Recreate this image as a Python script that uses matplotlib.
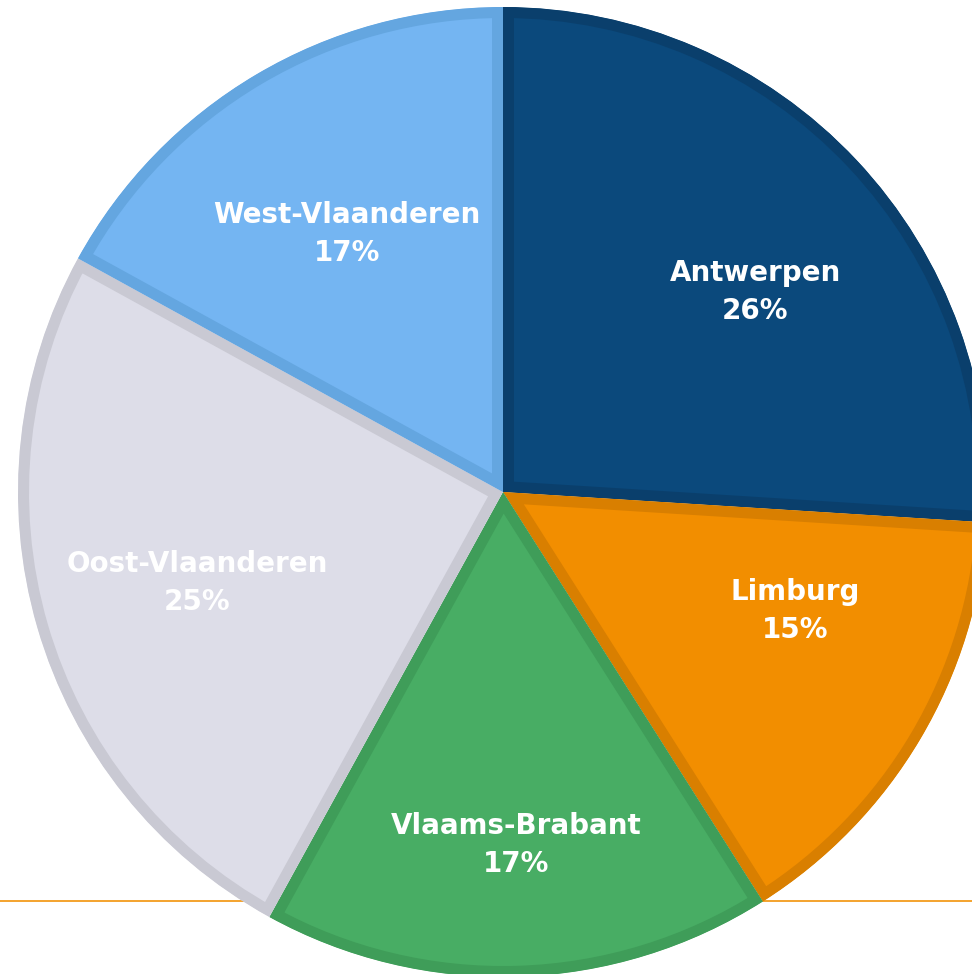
import matplotlib
matplotlib.use("Agg")
import matplotlib.pyplot as plt

# ---- data ----
regions = ["Antwerpen", "Limburg", "Vlaams-Brabant", "Oost-Vlaanderen", "West-Vlaanderen"]
shares = [26, 15, 17, 25, 17]
pct_labels = ["26%", "15%", "17%", "25%", "17%"]

# ---- styles ----
fill_colors = ["#0B497C", "#F28E00", "#48AD64", "#DDDDE8", "#74B5F2"]
edge_colors = ["#0A3F6C", "#D97F00", "#3F9D59", "#C9C9D3", "#64A6E0"]
label_pos = [(755, 292), (795, 611), (516, 845), (197, 583), (347, 234)]  # pixel positions (top-left origin)

W, H = 972, 974
fig = plt.figure(figsize=(W / 100, H / 100), dpi=100)
ax = fig.add_axes([0, 0, 1, 1])

cx, cy, R = 503, 492, 485
border_px = 11

# decorative slide line behind the pie
ax.plot([0, W], [H - 901, H - 901], color="#F39C1E", lw=1.3, zorder=0.5, solid_capstyle="butt")

wedges, _ = ax.pie(shares, colors=fill_colors, startangle=90, counterclock=False,
                   radius=R, center=(cx, H - cy),
                   wedgeprops=dict(linewidth=2 * border_px * 72 / 100, joinstyle="miter"))
for w, ec in zip(wedges, edge_colors):
    w.set_edgecolor(ec)
    w.set_clip_on(True)
    w.set_clip_path(w)
    w.set_zorder(1)

for name, pct, (px, py) in zip(regions, pct_labels, label_pos):
    ax.text(px, H - py, f"{name}\n{pct}", ha="center", va="center", color="white",
            fontsize=20, fontweight="bold", family="DejaVu Sans", linespacing=1.45, zorder=3)

ax.set_xlim(0, W)
ax.set_ylim(0, H)
ax.set_aspect("equal")
ax.axis("off")
fig.savefig("out.png", dpi=100, facecolor="white")
